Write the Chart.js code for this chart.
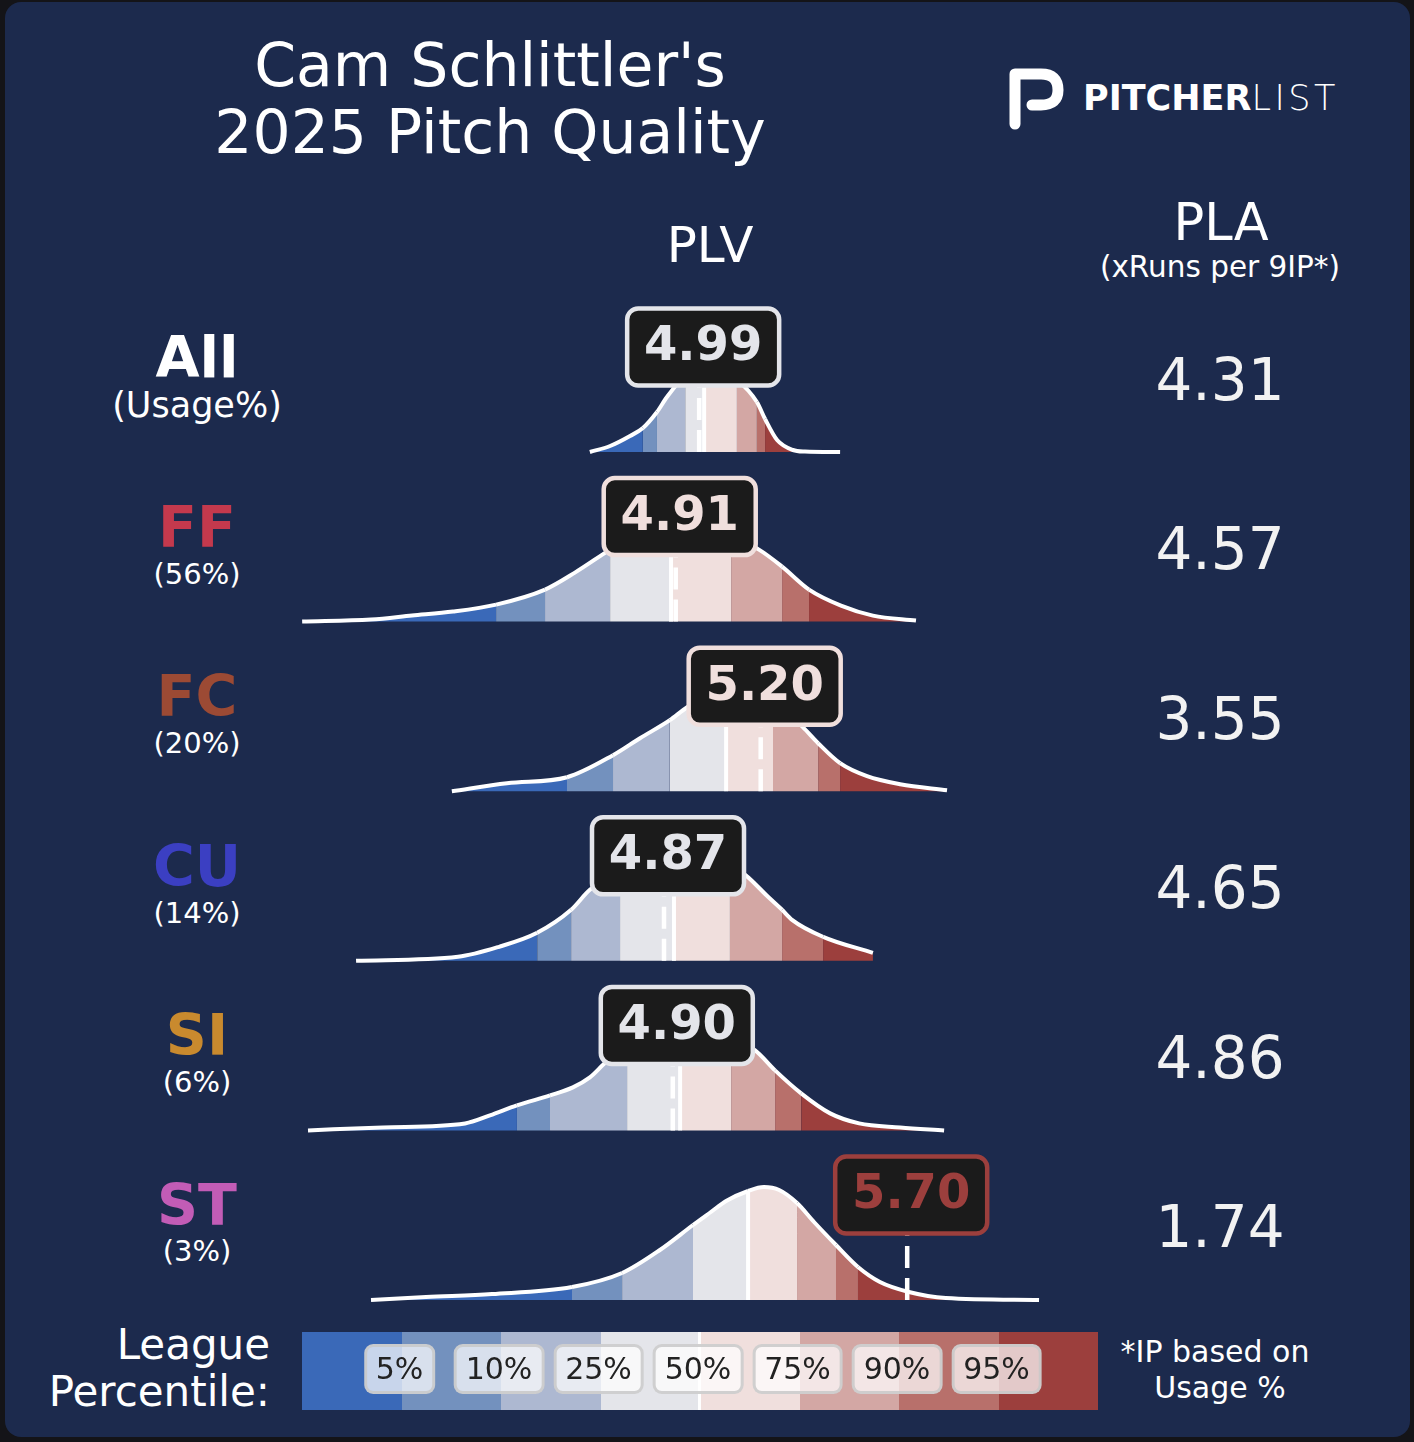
<!DOCTYPE html>
<html>
<head>
<meta charset="utf-8">
<title>Cam Schlittler's 2025 Pitch Quality</title>
<script src="https://cdn.jsdelivr.net/npm/chart.js@4.4.0/dist/chart.umd.min.js"></script>
<style>
  html, body { margin: 0; padding: 0; width: 1414px; height: 1442px; overflow: hidden;
    background: #141418; font-family: "DejaVu Sans", sans-serif; color: #fff; }
  #card { position: absolute; left: 5px; top: 2px; width: 1405px; height: 1435px;
    border-radius: 16px; background: #1c2a4d; }
  #chart { position: absolute; left: 0; top: 0; }
  .t { position: absolute; white-space: nowrap; transform: translate(-50%, -50%); line-height: 1; }
  .r { position: absolute; white-space: nowrap; transform: translate(-100%, -50%); line-height: 1; }
  #bar { position: absolute; left: 302px; top: 1332px; width: 796px; height: 78px; display: flex; }
  #bar div { flex: 1; }
  .pct { position: absolute; z-index: 3; transform: translate(-50%, -50%); height: 44px; padding: 0 9px;
    border: 3px solid rgba(200, 200, 200, 0.85); border-radius: 9px; background: rgba(255, 255, 255, 0.72);
    color: #222; font-size: 30px; line-height: 44px; }
</style>
</head>
<body>
<div id="card"></div>
<div id="bar"></div>
<div id="labels"></div>
<canvas id="chart" width="1414" height="1442"></canvas>
<svg style="position:absolute;left:0;top:0" width="1414" height="200">
  <path d="M1015 124 L1015 74 L1041 74 Q1058 74 1058 90 Q1058 105 1041 105 L1032 105"
        fill="none" stroke="#fff" stroke-width="11" stroke-linecap="round" stroke-linejoin="round"/>
</svg>
<script>
// Pitch rows, top to bottom
const pitches = ['All', 'FF', 'FC', 'CU', 'SI', 'ST'];
const usage = ['(Usage%)', '(56%)', '(20%)', '(14%)', '(6%)', '(3%)'];
const pitchColors = ['#ffffff', '#c4394d', '#9c4a34', '#3b3fc2', '#c98a2e', '#c25cb6'];
const plvValues = [4.99, 4.91, 5.20, 4.87, 4.90, 5.70];
const plaValues = ['4.31', '4.57', '3.55', '4.65', '4.86', '1.74'];

// League percentile legend
const percentileLabels = ['5%', '10%', '25%', '50%', '75%', '90%', '95%'];
const bandColors = ['#3a69b8', '#7391be', '#adb8d1', '#e4e5ea', '#f0dfdd', '#d3a7a4', '#b8706b', '#9c3f3d'];

// League PLV cut points per pitch: 5, 10, 25, 50, 75, 90, 95th percentile
const edgesAll = [4.798, 4.846, 4.942, 5.007, 5.119, 5.187, 5.215];
const edgesFF  = [4.297, 4.464, 4.686, 4.894, 5.099, 5.273, 5.365];
const edgesFC  = [4.539, 4.696, 4.890, 5.082, 5.242, 5.396, 5.471];
const edgesCU  = [4.437, 4.553, 4.720, 4.904, 5.095, 5.273, 5.413];
const edgesSI  = [4.368, 4.481, 4.744, 4.925, 5.099, 5.249, 5.338];
const edgesST  = [4.556, 4.727, 4.969, 5.157, 5.324, 5.457, 5.532];

// League PLV density curves (x = PLV, d = relative density)
const xAll = [4.617, 4.686, 4.754, 4.798, 4.846, 4.880, 4.942, 5.007, 5.061, 5.119, 5.187, 5.215, 5.256, 5.310, 5.351, 5.471];
const dAll = [0, 6, 16, 24, 40, 55, 76, 84, 80, 72, 50, 33, 12, 2, 0.5, 0];
const xFF = [3.635, 3.870, 4.010, 4.150, 4.297, 4.464, 4.566, 4.686, 4.788, 4.894, 4.993, 5.099, 5.194, 5.273, 5.365, 5.474, 5.583, 5.730];
const dFF = [0, 2, 6, 10, 17, 32, 49, 72, 90, 100, 98, 85, 72, 55, 32, 16, 6, 1];
const xFC = [4.146, 4.334, 4.539, 4.696, 4.788, 4.890, 4.949, 5.082, 5.198, 5.242, 5.344, 5.396, 5.471, 5.563, 5.676, 5.836];
const dFC = [0, 8, 14, 36, 53, 71, 84, 104, 100, 92, 64, 48, 28, 15, 7, 1];
const xCU = [3.819, 4.167, 4.307, 4.437, 4.553, 4.617, 4.720, 4.904, 4.993, 5.095, 5.147, 5.225, 5.273, 5.307, 5.413, 5.583];
const dCU = [0, 4, 14, 28, 51, 71, 90, 102, 100, 95, 86, 64, 51, 41, 24, 8];
const xSI = [3.655, 3.911, 4.191, 4.276, 4.368, 4.481, 4.559, 4.617, 4.679, 4.744, 4.925, 5.010, 5.099, 5.181, 5.249, 5.338, 5.437, 5.536, 5.676, 5.826];
const dSI = [0, 3, 7, 15, 25, 35, 43, 53, 70, 80, 95, 96, 92, 80, 60, 37, 17, 7, 3, 0];
const xST = [3.870, 4.058, 4.283, 4.556, 4.727, 4.856, 4.969, 5.030, 5.082, 5.157, 5.211, 5.263, 5.324, 5.382, 5.457, 5.532, 5.607, 5.706, 5.832, 6.150];
const dST = [0, 3, 6, 13, 27, 50, 75, 88, 99, 109, 113, 110, 97, 78, 55, 33, 18, 8, 2, 0];

const curveX = [xAll, xFF, xFC, xCU, xSI, xST];
const curveD = [dAll, dFF, dFC, dCU, dSI, dST];
const edges = [edgesAll, edgesFF, edgesFC, edgesCU, edgesSI, edgesST];

// layout
const ROW_GAP = 169.6;   // density units between row baselines
const BOX_LIFT = 105;    // label box centre above baseline
const BOX_SHIFT = 4;     // label box nudged right of the dashed line
const BOX_W = 152, BOX_H = 77;

function bandOf(cuts, v) {
  let k = 0;
  while (k < cuts.length && v >= cuts[k]) k++;
  return k;
}

// ---- static text ----
const labels = document.getElementById('labels');
function addText(cls, txt, x, y, css) {
  const el = document.createElement('div');
  el.className = cls;
  el.textContent = txt;
  el.style.left = x + 'px';
  el.style.top = y + 'px';
  el.style.cssText += css;
  labels.appendChild(el);
}

addText('t', "Cam Schlittler's", 490, 65, 'font-size:60px;');
addText('t', '2025 Pitch Quality', 490, 132, 'font-size:60px;');
addText('t', 'PLV', 710, 245, 'font-size:50px;');
addText('t', 'PLA', 1221, 222, 'font-size:51px;');
addText('t', '(xRuns per 9IP*)', 1220, 268, 'font-size:29.5px;');

const logo = document.createElement('div');
logo.style.cssText = 'position:absolute;left:1083px;top:98px;transform:translateY(-50%);white-space:nowrap;line-height:1;font-size:35px;';
logo.innerHTML = '<span style="font-weight:bold">PITCHER</span><span style="font-weight:200;letter-spacing:3.5px">LIST</span>';
labels.appendChild(logo);

pitches.forEach((p, i) => {
  addText('t', p, 197, 357 + i * ROW_GAP, `font-size:57px;font-weight:bold;color:${pitchColors[i]};`);
  const subY = i === 0 ? 405 : 574 + (i - 1) * 169.3;
  addText('t', usage[i], 197, subY, `font-size:${i === 0 ? 35 : 29}px;`);
  addText('t', plaValues[i], 1220, 380 + i * 169.4, 'font-size:58px;color:#f2f2f2;');
});

addText('r', 'League', 270, 1345, 'font-size:42px;');
addText('r', 'Percentile:', 270, 1392, 'font-size:42px;');
addText('t', '*IP based on', 1215, 1352, 'font-size:30px;');
addText('t', 'Usage %', 1220, 1388, 'font-size:30px;');

// legend colour bar
const bar = document.getElementById('bar');
bandColors.forEach(c => {
  const b = document.createElement('div');
  b.style.background = c;
  bar.appendChild(b);
});
const mid = document.createElement('div');
mid.style.cssText = 'position:absolute;left:396px;top:0;width:3px;height:78px;background:#fff;flex:none;';
bar.appendChild(mid);
percentileLabels.forEach((lab, k) => {
  const el = document.createElement('div');
  el.className = 'pct';
  el.textContent = lab;
  el.style.left = (302 + (k + 1) * 99.5 - 2) + 'px';
  el.style.top = '1369px';
  labels.appendChild(el);
});

// ---- ridgeline chart ----
const datasets = pitches.map((p, i) => {
  const base = i * ROW_GAP;
  const cuts = edges[i];
  return {
    label: p,
    data: curveX[i].map((x, j) => ({ x: x, y: base - curveD[i][j] })),
    borderColor: '#ffffff',
    borderWidth: 4,
    pointRadius: 0,
    cubicInterpolationMode: 'monotone',
    fill: { value: base },
    backgroundColor: bandColors[3],
    segment: {
      backgroundColor: c => bandColors[bandOf(cuts, (c.p0.parsed.x + c.p1.parsed.x) / 2)]
    }
  };
});

function roundRect(ctx, x, y, w, h, r) {
  ctx.beginPath();
  ctx.moveTo(x + r, y);
  ctx.arcTo(x + w, y, x + w, y + h, r);
  ctx.arcTo(x + w, y + h, x, y + h, r);
  ctx.arcTo(x, y + h, x, y, r);
  ctx.arcTo(x, y, x + w, y, r);
  ctx.closePath();
}

const markerPlugin = {
  id: 'markers',
  afterDatasetsDraw(chart) {
    const { ctx, scales: { x, y } } = chart;
    pitches.forEach((p, i) => {
      const base = i * ROW_GAP;
      const yBase = y.getPixelForValue(base);
      const cuts = edges[i];

      // median line up to the curve
      const mIdx = curveX[i].indexOf(cuts[3]);
      const mx = x.getPixelForValue(cuts[3]);
      const my = chart.getDatasetMeta(i).data[mIdx].y;
      ctx.save();
      ctx.strokeStyle = '#ffffff';
      ctx.lineWidth = 4;
      ctx.beginPath();
      ctx.moveTo(mx, yBase);
      ctx.lineTo(mx, my);
      ctx.stroke();

      // dashed line at the pitch's PLV
      const vx = x.getPixelForValue(plvValues[i]);
      const boxY = y.getPixelForValue(base - BOX_LIFT);
      ctx.setLineDash([22, 10]);
      ctx.lineWidth = 4.5;
      ctx.beginPath();
      ctx.moveTo(vx, yBase);
      ctx.lineTo(vx, boxY);
      ctx.stroke();
      ctx.setLineDash([]);

      // value box
      const bx = vx + BOX_SHIFT;
      const col = bandColors[bandOf(cuts, plvValues[i])];
      roundRect(ctx, bx - BOX_W / 2, boxY - BOX_H / 2, BOX_W, BOX_H, 11);
      ctx.fillStyle = '#1b1b1b';
      ctx.fill();
      ctx.lineWidth = 4.5;
      ctx.strokeStyle = col;
      ctx.stroke();
      ctx.fillStyle = col;
      ctx.font = 'bold 48px "DejaVu Sans"';
      ctx.textAlign = 'center';
      ctx.textBaseline = 'middle';
      ctx.fillText(plvValues[i].toFixed(2), bx, boxY + 1);
      ctx.restore();
    });
  }
};

new Chart(document.getElementById('chart'), {
  type: 'line',
  data: { datasets: datasets },
  options: {
    responsive: false,
    animation: false,
    events: [],
    layout: { padding: 0 },
    plugins: { legend: { display: false }, tooltip: { enabled: false } },
    scales: {
      x: { type: 'linear', min: 2.6038, max: 7.4297, display: false },
      y: { type: 'linear', min: -452, max: 990, reverse: true, display: false }
    }
  },
  plugins: [markerPlugin]
});
</script>
</body>
</html>
